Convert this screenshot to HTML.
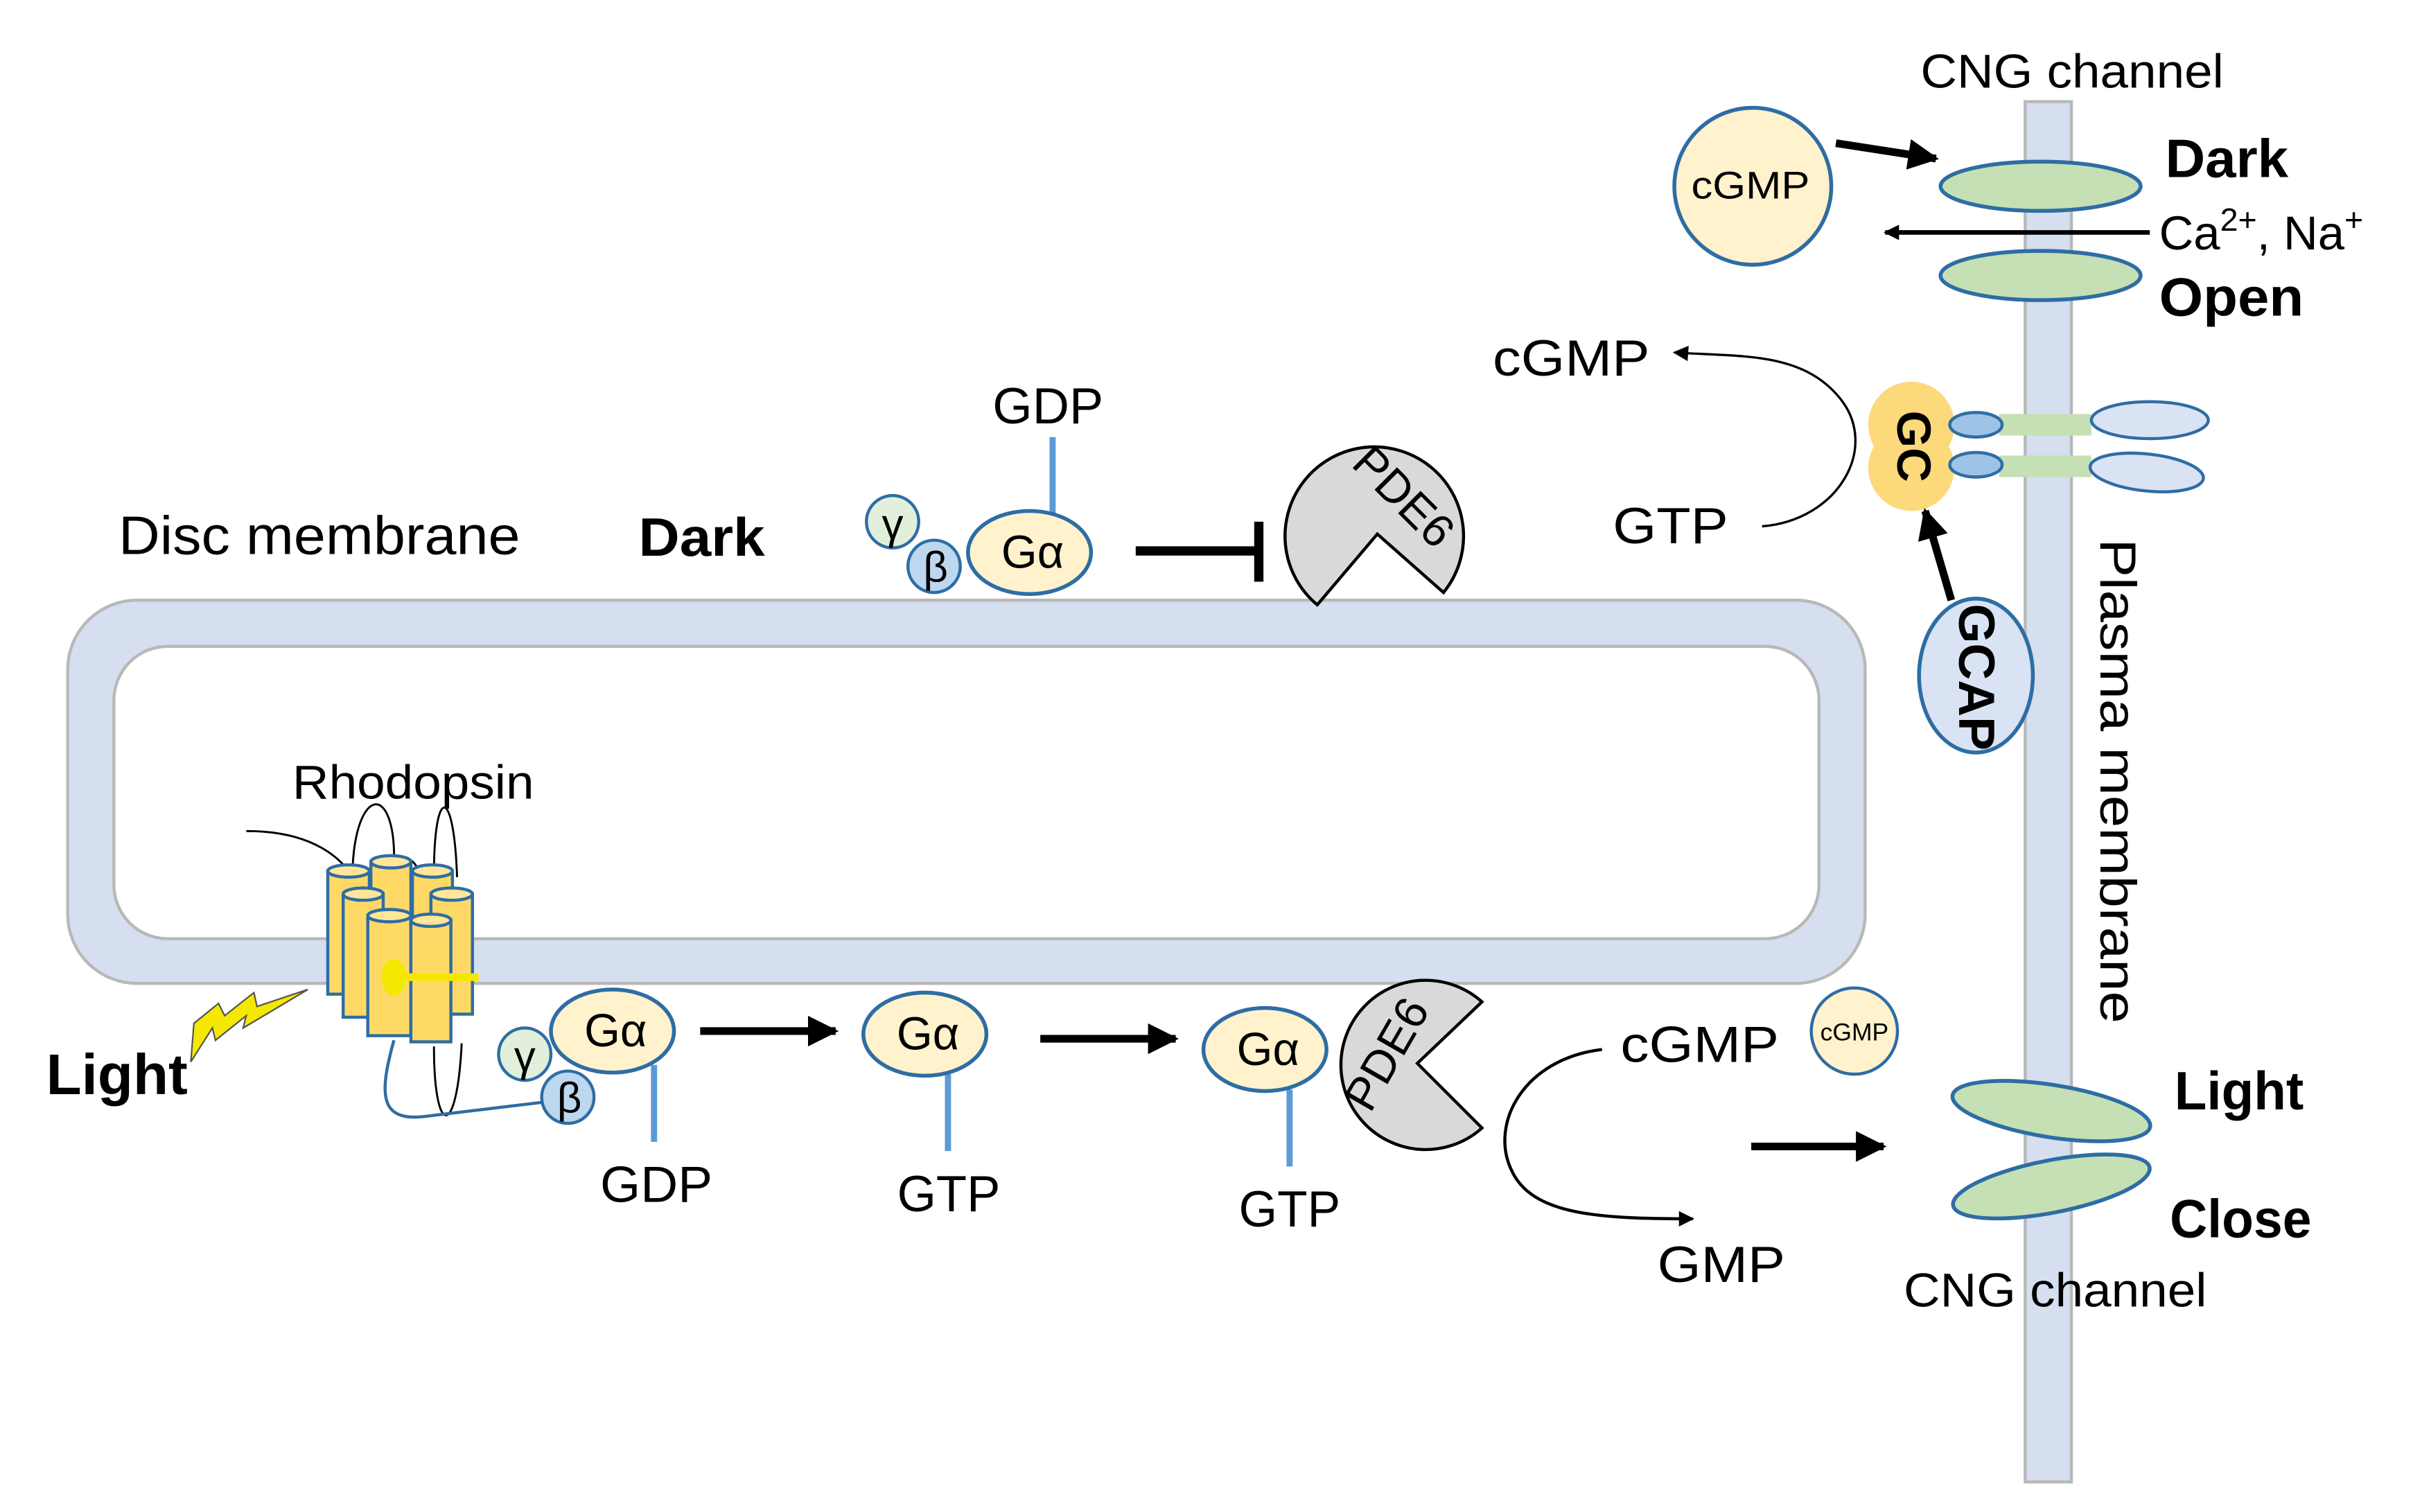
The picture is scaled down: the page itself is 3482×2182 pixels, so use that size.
<!DOCTYPE html>
<html><head><meta charset="utf-8"><style>html,body{margin:0;padding:0;background:#fff}svg{display:block}text{font-family:"Liberation Sans",Arial,sans-serif}</style></head>
<body>
<svg width="3482" height="2182" viewBox="0 0 1568 982.5" xmlns="http://www.w3.org/2000/svg">
<defs>
<marker id="ah" viewBox="0 0 10 10" refX="9" refY="5" markerWidth="4" markerHeight="4" orient="auto"><path d="M0,0 L10,5 L0,10 z" fill="#000"/></marker>
<marker id="as" viewBox="0 0 10 10" refX="9" refY="5" markerWidth="14" markerHeight="10" markerUnits="userSpaceOnUse" orient="auto"><path d="M0,0 L10,5 L0,10 z" fill="#000"/></marker>
</defs>
<rect width="1568" height="982.5" fill="#fff"/>
<!-- plasma membrane -->
<rect x="1316" y="66" width="30" height="897" fill="#d6dff0" stroke="#b8b8b8" stroke-width="2"/>
<!-- disc membrane -->
<rect x="44" y="390" width="1168" height="249" rx="45" fill="#d6dff0" stroke="#b8b8b8" stroke-width="2"/>
<rect x="74" y="420" width="1108" height="190" rx="35" fill="#fff" stroke="#b8b8b8" stroke-width="2"/>

<text x="1248" y="57" font-size="31" textLength="197" lengthAdjust="spacingAndGlyphs">CNG channel</text>
<text x="1407" y="115" font-size="35" font-weight="bold" textLength="80" lengthAdjust="spacingAndGlyphs">Dark</text>
<text x="1403" y="162" font-size="31">Ca<tspan font-size="21" dy="-12">2+</tspan><tspan dy="12">, Na</tspan><tspan font-size="21" dy="-12">+</tspan></text>
<text x="1403" y="205" font-size="35" font-weight="bold" textLength="94" lengthAdjust="spacingAndGlyphs">Open</text>

<circle cx="1139" cy="121" r="51" fill="#fff2cc" stroke="#2e6da4" stroke-width="2.5"/>
<text x="1099" y="129" font-size="25" textLength="77" lengthAdjust="spacingAndGlyphs">cGMP</text>
<line x1="1193" y1="93" x2="1258" y2="103" stroke="#000" stroke-width="5" marker-end="url(#ah)"/>
<ellipse cx="1326" cy="121" rx="65" ry="16" fill="#c5e0b4" stroke="#2e6da4" stroke-width="2.5"/>
<ellipse cx="1326" cy="179" rx="65" ry="16" fill="#c5e0b4" stroke="#2e6da4" stroke-width="2.5"/>
<line x1="1397" y1="151" x2="1225" y2="151" stroke="#000" stroke-width="3" marker-end="url(#as)"/>

<text x="970" y="244" font-size="33" textLength="102" lengthAdjust="spacingAndGlyphs">cGMP</text>
<text x="1048" y="353" font-size="33" textLength="75" lengthAdjust="spacingAndGlyphs">GTP</text>
<path d="M1145,342 C1195,338 1222,290 1195,258 C1170,228 1130,232 1088,229" fill="none" stroke="#000" stroke-width="1.5" marker-end="url(#as)"/>

<!-- GC -->
<rect x="1299" y="269" width="60" height="14" fill="#c5e0b4"/>
<rect x="1299" y="296" width="60" height="14" fill="#c5e0b4"/>
<ellipse cx="1397" cy="273" rx="38" ry="12" fill="#dae3f3" stroke="#2e6da4" stroke-width="2"/>
<ellipse cx="1395" cy="307" rx="37" ry="12" transform="rotate(6 1395 307)" fill="#dae3f3" stroke="#2e6da4" stroke-width="2"/>
<circle cx="1242" cy="276" r="28" fill="#fcd97a"/>
<circle cx="1242" cy="304" r="28" fill="#fcd97a"/>
<ellipse cx="1284" cy="276" rx="17" ry="8" fill="#9dc3e6" stroke="#2e6da4" stroke-width="2"/>
<ellipse cx="1284" cy="302" rx="17" ry="8" fill="#9dc3e6" stroke="#2e6da4" stroke-width="2"/>
<text transform="translate(1233,290) rotate(90)" font-size="31" font-weight="bold" text-anchor="middle">GC</text>
<line x1="1268" y1="390" x2="1251" y2="332" stroke="#000" stroke-width="5" marker-end="url(#ah)"/>
<ellipse cx="1284" cy="439" rx="37" ry="50" fill="#dae3f3" stroke="#2e6da4" stroke-width="2.5"/>
<text transform="translate(1273,440) rotate(90)" font-size="33" font-weight="bold" text-anchor="middle">GCAP</text>
<text transform="translate(1365,350) rotate(90)" font-size="33" textLength="315" lengthAdjust="spacingAndGlyphs">Plasma membrane</text>

<text x="77" y="360" font-size="35" textLength="261" lengthAdjust="spacingAndGlyphs">Disc membrane</text>
<text x="415" y="361" font-size="35" font-weight="bold" textLength="82" lengthAdjust="spacingAndGlyphs">Dark</text>

<!-- top G protein -->
<line x1="684" y1="284" x2="684" y2="334" stroke="#5b9bd5" stroke-width="4"/>
<text x="645" y="275" font-size="33" textLength="72" lengthAdjust="spacingAndGlyphs">GDP</text>
<circle cx="580" cy="339" r="17" fill="#e2efda" stroke="#2e6da4" stroke-width="2"/>
<text x="580" y="350" font-size="28" text-anchor="middle">γ</text>
<circle cx="607" cy="368" r="17" fill="#bdd7ee" stroke="#2e6da4" stroke-width="2"/>
<text x="608" y="378" font-size="28" text-anchor="middle">β</text>
<ellipse cx="669" cy="359" rx="40" ry="27" fill="#fff2cc" stroke="#2e6da4" stroke-width="2.5"/>
<text x="671" y="369" font-size="30" text-anchor="middle">Gα</text>
<line x1="738" y1="358" x2="818" y2="358" stroke="#000" stroke-width="6"/>
<line x1="818" y1="339" x2="818" y2="378" stroke="#000" stroke-width="6"/>
<path d="M895,347 L856,393 A58,58 0 1 1 938,385 Z" fill="#d9d9d9" stroke="#000" stroke-width="2"/>
<text transform="translate(905,330) rotate(45)" font-size="30" text-anchor="middle">PDE6</text>

<!-- rhodopsin -->
<text x="190" y="519" font-size="31" textLength="157" lengthAdjust="spacingAndGlyphs">Rhodopsin</text>
<g fill="none" stroke="#000" stroke-width="1.3">
<path d="M160,540 C200,540 225,555 236,582"/>
<path d="M229,575 C228,510 258,505 256,563"/>
<path d="M282,568 C282,510 295,510 297,570"/>
<path d="M253,595 C253,545 275,545 280,600"/>
<path d="M282,680 C282,740 297,740 300,678"/>
</g>
<g stroke="#2e6da4" stroke-width="2" fill="#ffd966">
<rect x="213" y="566" width="27" height="80"/><ellipse cx="226.5" cy="566" rx="13.5" ry="4" fill="#ffe699"/>
<rect x="241" y="560" width="26" height="84"/><ellipse cx="254" cy="560" rx="13" ry="4" fill="#ffe699"/>
<rect x="268" y="566" width="26" height="80"/><ellipse cx="281" cy="566" rx="13" ry="4" fill="#ffe699"/>
<rect x="223" y="581" width="26" height="80"/><ellipse cx="236" cy="581" rx="13" ry="4" fill="#ffe699"/>
<rect x="280" y="581" width="27" height="78"/><ellipse cx="293.5" cy="581" rx="13.5" ry="4" fill="#ffe699"/>
<rect x="239" y="595" width="28" height="78"/><ellipse cx="253" cy="595" rx="14" ry="4" fill="#ffe699"/>
<rect x="267" y="598" width="26" height="79"/><ellipse cx="280" cy="598" rx="13" ry="4" fill="#ffe699"/>
</g>
<ellipse cx="256" cy="635" rx="8" ry="12" fill="#f5e800"/>
<line x1="256" y1="635" x2="311" y2="635" stroke="#f5e800" stroke-width="5"/>
<path d="M256,676 C245,715 248,730 280,725 L355,716" fill="none" stroke="#2e6da4" stroke-width="2"/>
<path d="M200,643 L158,668 L160,660 L140,676 L138,668 L124,690 L126,665 L142,652 L146,660 L165,645 L167,654 Z" fill="#f5e800" stroke="#555" stroke-width="1"/>
<text x="30" y="711" font-size="37" font-weight="bold" textLength="92" lengthAdjust="spacingAndGlyphs">Light</text>

<!-- bottom G protein -->
<line x1="425" y1="692" x2="425" y2="742" stroke="#5b9bd5" stroke-width="4"/>
<circle cx="341" cy="685" r="17" fill="#e2efda" stroke="#2e6da4" stroke-width="2"/>
<text x="341" y="696" font-size="28" text-anchor="middle">γ</text>
<circle cx="369" cy="713" r="17" fill="#bdd7ee" stroke="#2e6da4" stroke-width="2"/>
<text x="370" y="723" font-size="28" text-anchor="middle">β</text>
<ellipse cx="398" cy="670" rx="40" ry="27" fill="#fff2cc" stroke="#2e6da4" stroke-width="2.5"/>
<text x="400" y="680" font-size="30" text-anchor="middle">Gα</text>
<text x="390" y="781" font-size="33" textLength="73" lengthAdjust="spacingAndGlyphs">GDP</text>
<line x1="455" y1="670" x2="543" y2="670" stroke="#000" stroke-width="5" marker-end="url(#ah)"/>

<line x1="616" y1="698" x2="616" y2="748" stroke="#5b9bd5" stroke-width="4"/>
<ellipse cx="601" cy="672" rx="40" ry="27" fill="#fff2cc" stroke="#2e6da4" stroke-width="2.5"/>
<text x="603" y="682" font-size="30" text-anchor="middle">Gα</text>
<text x="583" y="787" font-size="33" textLength="67" lengthAdjust="spacingAndGlyphs">GTP</text>
<line x1="676" y1="675" x2="764" y2="675" stroke="#000" stroke-width="5" marker-end="url(#ah)"/>

<line x1="838" y1="708" x2="838" y2="758" stroke="#5b9bd5" stroke-width="4"/>
<ellipse cx="822" cy="682" rx="40" ry="27" fill="#fff2cc" stroke="#2e6da4" stroke-width="2.5"/>
<text x="824" y="692" font-size="30" text-anchor="middle">Gα</text>
<text x="805" y="797" font-size="33" textLength="66" lengthAdjust="spacingAndGlyphs">GTP</text>
<path d="M921,691 L963,651 A55,55 0 1 0 963,733 Z" fill="#d9d9d9" stroke="#000" stroke-width="2"/>
<text transform="translate(910,690) rotate(-60)" font-size="30" text-anchor="middle">PDE6</text>

<text x="1053" y="690" font-size="33" textLength="103" lengthAdjust="spacingAndGlyphs">cGMP</text>
<circle cx="1205" cy="670" r="28" fill="#fff2cc" stroke="#2e6da4" stroke-width="2"/>
<text x="1205" y="676" font-size="16" text-anchor="middle">cGMP</text>
<path d="M1041,682 C990,688 968,730 982,760 C995,790 1040,792 1100,792" fill="none" stroke="#000" stroke-width="2" marker-end="url(#as)"/>
<text x="1077" y="833" font-size="33" textLength="83" lengthAdjust="spacingAndGlyphs">GMP</text>
<line x1="1138" y1="745" x2="1224" y2="745" stroke="#000" stroke-width="5" marker-end="url(#ah)"/>

<ellipse cx="1333" cy="722" rx="65" ry="17" transform="rotate(9 1333 722)" fill="#c5e0b4" stroke="#2e6da4" stroke-width="2.5"/>
<ellipse cx="1333" cy="771" rx="65" ry="17" transform="rotate(-11 1333 771)" fill="#c5e0b4" stroke="#2e6da4" stroke-width="2.5"/>
<text x="1413" y="721" font-size="35" font-weight="bold" textLength="84" lengthAdjust="spacingAndGlyphs">Light</text>
<text x="1410" y="804" font-size="35" font-weight="bold" textLength="92" lengthAdjust="spacingAndGlyphs">Close</text>
<text x="1237" y="849" font-size="31" textLength="197" lengthAdjust="spacingAndGlyphs">CNG channel</text>
</svg>
</body></html>
